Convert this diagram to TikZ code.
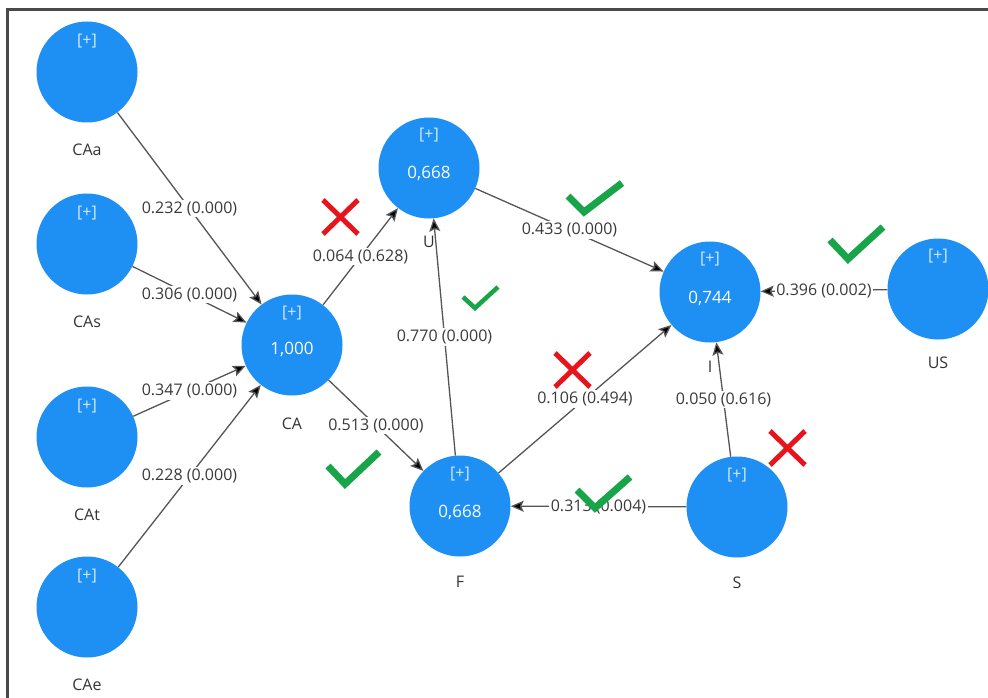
\documentclass[tikz,border=0pt]{standalone}
\usepackage{fontspec}
\setmainfont{Open Sans}
\usetikzlibrary{arrows.meta}

\begin{document}
\begin{tikzpicture}[x=1pt, y=-1pt,
  lv/.style={circle, fill=lvBlue, minimum size=101pt, inner sep=0pt},
  plus/.style={text=plusText, font=\fontsize{16}{18}\selectfont},
  val/.style={text=white, font=\fontsize{17}{19}\selectfont},
  lvname/.style={text=nameText, font=\fontsize{16}{18}\selectfont},
  edge/.style={draw=edgeGray, line width=1.3pt, -{Stealth[length=13pt,width=11pt,inset=2.5pt,fill=black]}},
  coef/.style={midway, fill=white, inner sep=1.5pt, text=coefText, font=\fontsize{16}{18}\selectfont},
  ok/.style={draw=okGreen, line width=7pt, line join=miter},
  ko/.style={draw=koRed, line width=5pt}]

% Colori
\definecolor{lvBlue}{HTML}{1E8FF3}
\definecolor{plusText}{HTML}{D6E9FF}
\definecolor{nameText}{HTML}{333333}
\definecolor{coefText}{HTML}{3A3A3A}
\definecolor{edgeGray}{HTML}{555555}
\definecolor{frameGray}{HTML}{4A4A4A}
\definecolor{okGreen}{HTML}{18A449}
\definecolor{koRed}{HTML}{E8141B}

\useasboundingbox (0,0) rectangle (988,698);

% Cornice
\draw[frameGray, line width=3pt] (7,698) -- (7,10) -- (988,10);

% Variabili latenti (indicatori)
\node[lv] (CAa) at (87,72) {};
\node[plus] (plusCAa) at ([yshift=31pt]CAa.center) {[+]};
\node[lvname] (nameCAa) at ([yshift=-78pt]CAa.center) {CAa};

\node[lv] (CAs) at (87,244) {};
\node[plus] (plusCAs) at ([yshift=31pt]CAs.center) {[+]};
\node[lvname] (nameCAs) at ([yshift=-78pt]CAs.center) {CAs};

\node[lv] (CAt) at (87,437) {};
\node[plus] (plusCAt) at ([yshift=31pt]CAt.center) {[+]};
\node[lvname] (nameCAt) at ([yshift=-78pt]CAt.center) {CAt};

\node[lv] (CAe) at (87,607) {};
\node[plus] (plusCAe) at ([yshift=31pt]CAe.center) {[+]};
\node[lvname] (nameCAe) at ([yshift=-78pt]CAe.center) {CAe};

% CA
\node[lv] (CA) at (292,345) {};
\node[plus] (plusCA) at ([yshift=32pt]CA.center) {[+]};
\node[val] (valCA) at ([yshift=-4pt]CA.center) {1,000};
\node[lvname] (nameCA) at ([yshift=-79pt]CA.center) {CA};

% U
\node[lv] (U) at (429,168) {};
\node[plus] (plusU) at ([yshift=33pt]U.center) {[+]};
\node[val] (valU) at ([yshift=-5pt]U.center) {0,668};
\node[lvname] (nameU) at ([yshift=-74pt]U.center) {U};

% F
\node[lv] (F) at (460,506) {};
\node[plus] (plusF) at ([yshift=32pt]F.center) {[+]};
\node[val] (valF) at ([yshift=-6pt]F.center) {0,668};
\node[lvname] (nameF) at ([yshift=-76pt]F.center) {F};

% I
\node[lv] (I) at (710,292) {};
\node[plus] (plusI) at ([yshift=33pt]I.center) {[+]};
\node[val] (valI) at ([yshift=-6pt]I.center) {0,744};
\node[lvname] (nameI) at ([yshift=-75pt]I.center) {I};

% S
\node[lv] (S) at (737,507) {};
\node[plus] (plusS) at ([yshift=32pt]S.center) {[+]};
\node[lvname] (nameS) at ([yshift=-76pt]S.center) {S};

% US
\node[lv] (US) at (938,289) {};
\node[plus] (plusUS) at ([yshift=33pt]US.center) {[+]};
\node[lvname] (nameUS) at ([yshift=-74pt]US.center) {US};

% Percorsi
\draw[edge] (CAa) -- node[coef] {0.232 (0.000)} (CA);
\draw[edge] (CAs) -- node[coef] {0.306 (0.000)} (CA);
\draw[edge] (CAt) -- node[coef] {0.347 (0.000)} (CA);
\draw[edge] (CAe) -- node[coef] {0.228 (0.000)} (CA);
\draw[edge] (CA) -- node[coef] {0.064 (0.628)} (U);
\draw[edge] (CA) -- node[coef] {0.513 (0.000)} (F);
\draw[edge] (U) -- node[coef] {0.433 (0.000)} (I);
\draw[edge] (F) -- node[coef] {0.770 (0.000)} (U);
\draw[edge] (F) -- node[coef] {0.106 (0.494)} (I);
\draw[edge] (S) -- node[coef] {0.313 (0.004)} (F);
\draw[edge] (S) -- node[coef] {0.050 (0.616)} (I);
\draw[edge] (US) -- node[coef] {0.396 (0.002)} (I);

% Segni: verificato / non verificato
\draw[ok] (568,196) -- (584,212) -- (622,183);
\draw[ok] (830,240) -- (848,259) -- (883,227);
\draw[ok] (328,466) -- (345,484) -- (379,452);
\draw[ok] (577,490) -- (595,508) -- (630,477);
\draw[ok, line width=4.5pt] (463,297) -- (475,308) -- (498,287);

\draw[ko] (323,200) -- (358,234) (358,200) -- (323,234);
\draw[ko] (555,353) -- (590,387) (590,353) -- (555,387);
\draw[ko] (770,431) -- (805,465) (805,431) -- (770,465);

\end{tikzpicture}
\end{document}
